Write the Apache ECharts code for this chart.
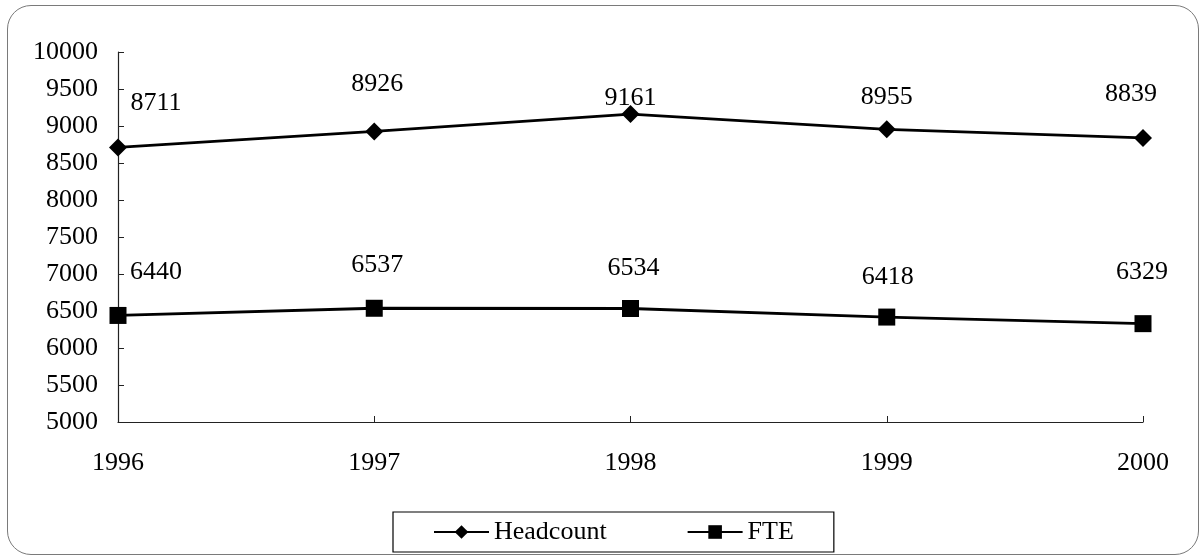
<!DOCTYPE html>
<html>
<head>
<meta charset="utf-8">
<script src="https://cdn.jsdelivr.net/npm/echarts@6/dist/echarts.min.js"></script>
<style>
html,body{margin:0;padding:0;background:#fff;}
#frame{position:absolute;left:7px;top:5px;width:1190px;height:548px;border:1.5px solid #7a7a7a;border-radius:24px;}
#chart{position:absolute;left:0;top:0;width:1203px;height:556px;}
</style>
</head>
<body>
<div id="frame"></div>
<div id="chart"></div>
<script>
var years = ['1996', '1997', '1998', '1999', '2000'];
var headcount = [8711, 8926, 9161, 8955, 8839];
var fte = [6440, 6537, 6534, 6418, 6329];
var yMin = 5000, yMax = 10000, yStep = 500;

// label offsets (layout only)
var headOffsets = [[38, -44], [3, -47], [0, -16], [0, -32], [-12, -44]];
var fteOffsets = [[38, -43], [3, -43], [3, -40], [1, -40], [-1, -51]];

var FONT = '"Liberation Serif", "Times New Roman", serif';
var FS = 26;

function buildData(vals, offs) {
  return vals.map(function (v, i) {
    return { value: v, label: { offset: offs[i] } };
  });
}

var chart = echarts.init(document.getElementById('chart'), null, { renderer: 'canvas' });
chart.setOption({
  backgroundColor: 'transparent',
  animation: false,
  grid: { left: 118, right: 60, top: 52, bottom: 134, containLabel: false },
  legend: {
    left: 393, top: 512,
    padding: [7, 40, 7, 40],
    borderColor: '#000', borderWidth: 1.2,
    itemWidth: 55, itemHeight: 17, itemGap: 80,
    textStyle: { fontFamily: FONT, fontSize: FS, color: '#000' },
    data: ['Headcount', 'FTE']
  },
  xAxis: {
    type: 'category', data: years, boundaryGap: false,
    axisLine: { lineStyle: { color: '#222', width: 1.2 } },
    axisTick: { show: true, inside: true, length: 6, alignWithLabel: true, lineStyle: { color: '#222' } },
    axisLabel: { margin: 28, fontFamily: FONT, fontSize: FS, color: '#000' },
    splitLine: { show: false }
  },
  yAxis: {
    type: 'value', min: yMin, max: yMax, interval: yStep,
    axisLine: { show: true, lineStyle: { color: '#222', width: 1.2 } },
    axisTick: { show: true, inside: true, length: 6, lineStyle: { color: '#222' } },
    axisLabel: { margin: 20, fontFamily: FONT, fontSize: FS, color: '#000', formatter: function (v) { return String(v); } },
    splitLine: { show: false }
  },
  series: [
    {
      name: 'Headcount', type: 'line', data: buildData(headcount, headOffsets),
      symbol: 'diamond', symbolSize: 18,
      lineStyle: { color: '#000', width: 2.8 },
      itemStyle: { color: '#000' },
      label: { show: true, position: 'inside', fontFamily: FONT, fontSize: FS, color: '#000' }
    },
    {
      name: 'FTE', type: 'line', data: buildData(fte, fteOffsets),
      symbol: 'rect', symbolSize: 17,
      lineStyle: { color: '#000', width: 2.8 },
      itemStyle: { color: '#000' },
      label: { show: true, position: 'inside', fontFamily: FONT, fontSize: FS, color: '#000' }
    }
  ]
});
</script>
</body>
</html>
